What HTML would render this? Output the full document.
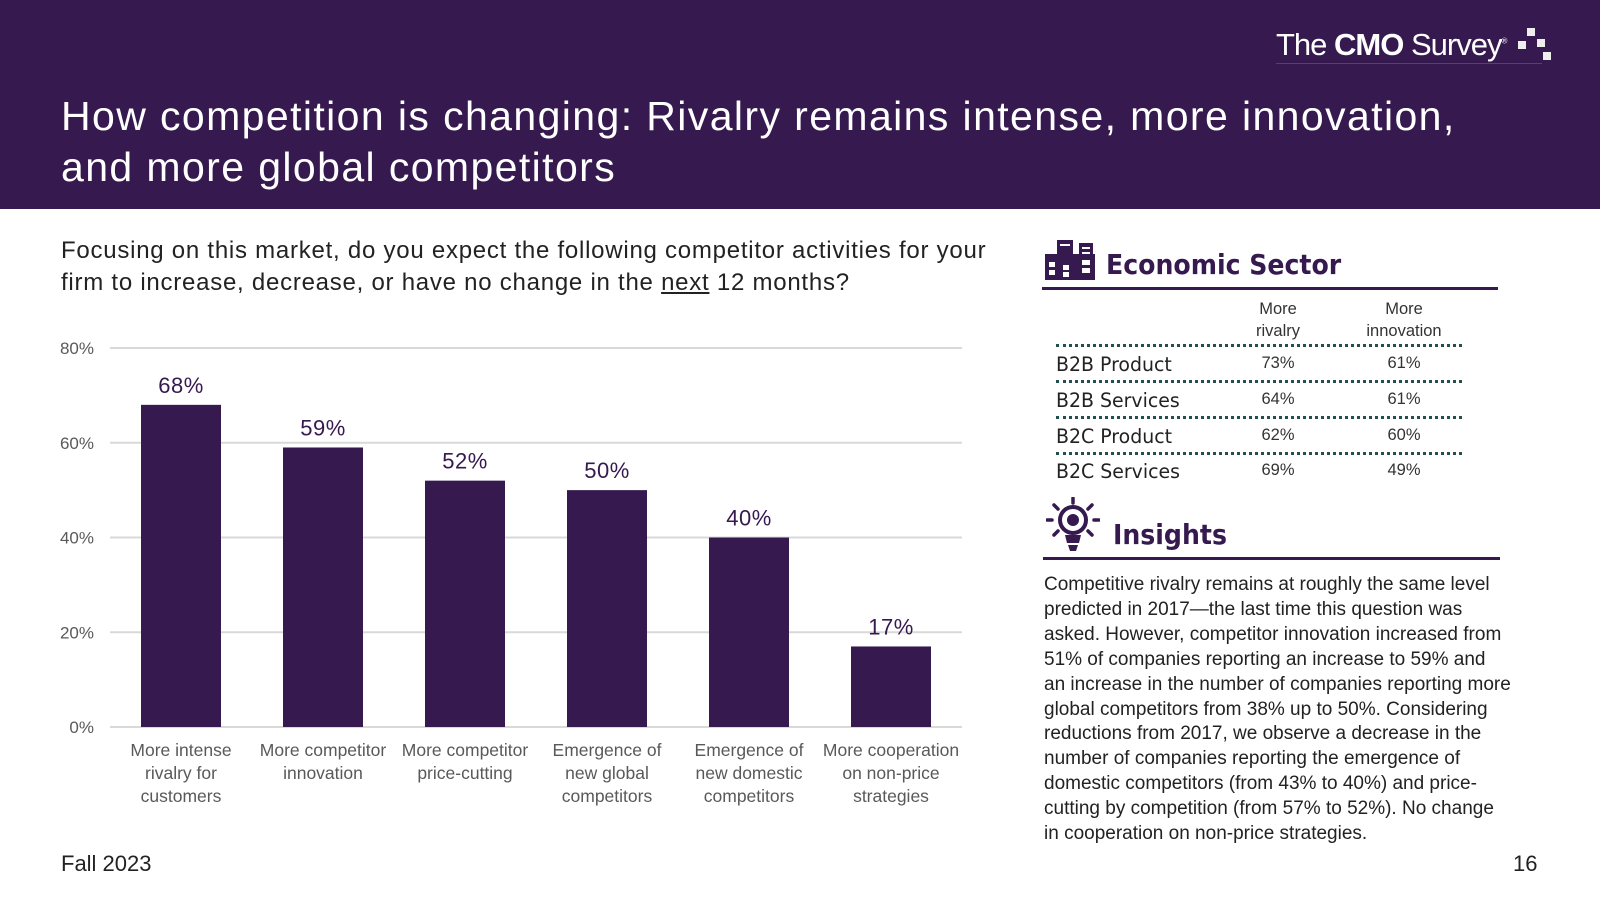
<!DOCTYPE html>
<html><head><meta charset="utf-8"><style>
body{margin:0;width:1600px;height:900px;background:#fff;position:relative;overflow:hidden;font-family:"Liberation Sans",sans-serif;}
.abs{position:absolute;white-space:nowrap;}
#hdr{position:absolute;left:0;top:0;width:1600px;height:209px;background:#36194f;}
.ttl{color:#fff;font-size:41px;left:61px;letter-spacing:1.4px;}
.q{font-size:24px;color:#222;left:61px;letter-spacing:0.75px;}
.sec{color:#36194f;font-family:"DejaVu Sans Condensed","DejaVu Sans",sans-serif;font-weight:bold;font-size:28px;}
.rowl{font-size:19.5px;color:#222;left:1056px;font-family:"DejaVu Sans",sans-serif;transform:scaleX(.97);transform-origin:left;}
.val{font-size:16.5px;color:#333;width:120px;text-align:center;}
.dot{position:absolute;left:1056px;width:406px;border-top:3px dotted #234f4f;}
#ins{left:1044px;top:573px;font-size:19px;line-height:24.9px;color:#222;letter-spacing:0px;}
</style></head><body>
<div id="hdr"></div>
<div class="abs" style="left:1276px;top:27px;color:#fff;font-size:31px;letter-spacing:-1px;font-weight:300;">The <b style="font-weight:900">CMO</b> Survey<sup style="font-size:8px">®</sup></div>
<div class="abs" style="left:1276px;top:63px;width:266px;height:1px;background:#6a3a5a"></div>
<svg class="abs" style="left:1518px;top:27px" width="40" height="36"><rect x="9" y="1" width="8" height="8" fill="#eee"/><rect x="0" y="14" width="8" height="8" fill="#eee"/><rect x="19" y="12" width="8" height="8" fill="#eee"/><rect x="25" y="25" width="8" height="8" fill="#eee"/></svg>
<div class="abs ttl" style="top:93px">How competition is changing: Rivalry remains intense, more innovation,</div>
<div class="abs ttl" style="top:144px">and more global competitors</div>
<div class="abs q" style="top:237px">Focusing on this market, do you expect the following competitor activities for your</div>
<div class="abs q" style="top:269px">firm to increase, decrease, or have no change in the <u>next</u> 12 months?</div>
<svg id="chart" class="abs" style="left:0;top:0" width="980" height="830"></svg>
<div class="abs" style="left:61px;top:851px;font-size:22px;color:#222">Fall 2023</div>
<div class="abs" style="left:1513px;top:851px;font-size:22px;color:#222">16</div>
<svg class="abs" style="left:1045px;top:240px" width="50" height="40" viewBox="0 0 50 40"><rect x="0" y="14" width="50" height="26" fill="#36194f"/><rect x="12" y="0" width="16" height="20" fill="#36194f"/><rect x="34" y="3" width="14" height="20" fill="#36194f"/><g fill="#fff"><rect x="15" y="4" width="10" height="2"/><rect x="37" y="7" width="8" height="2"/><rect x="37" y="12" width="8" height="2"/><rect x="4" y="22" width="6" height="5"/><rect x="4" y="30" width="6" height="5"/><rect x="18" y="25" width="6" height="5"/><rect x="18" y="32" width="6" height="5"/><rect x="37" y="20" width="8" height="5"/><rect x="37" y="28" width="8" height="5"/></g></svg>
<div class="abs sec" style="left:1106px;top:248px">Economic Sector</div>
<div class="abs" style="left:1042px;top:287px;width:456px;height:3px;background:#36194f"></div>
<div class="abs val" style="left:1218px;top:298px;line-height:22px">More<br>rivalry</div>
<div class="abs val" style="left:1344px;top:298px;line-height:22px">More<br>innovation</div>
<div class="dot" style="top:344px"></div>
<div class="dot" style="top:380px"></div>
<div class="dot" style="top:416px"></div>
<div class="dot" style="top:452px"></div>
<div class="abs rowl" style="top:353px">B2B Product</div>
<div class="abs val" style="left:1218px;top:354px">73%</div>
<div class="abs val" style="left:1344px;top:354px">61%</div>
<div class="abs rowl" style="top:389px">B2B Services</div>
<div class="abs val" style="left:1218px;top:390px">64%</div>
<div class="abs val" style="left:1344px;top:390px">61%</div>
<div class="abs rowl" style="top:425px">B2C Product</div>
<div class="abs val" style="left:1218px;top:426px">62%</div>
<div class="abs val" style="left:1344px;top:426px">60%</div>
<div class="abs rowl" style="top:460px">B2C Services</div>
<div class="abs val" style="left:1218px;top:461px">69%</div>
<div class="abs val" style="left:1344px;top:461px">49%</div>
<svg class="abs" style="left:1046px;top:497px" width="54" height="56" viewBox="0 0 54 56"><g stroke="#36194f" stroke-width="3.5" stroke-linecap="round"><line x1="27" y1="1" x2="27" y2="6"/><line x1="8" y1="8" x2="12" y2="12"/><line x1="46" y1="8" x2="42" y2="12"/><line x1="1" y1="23" x2="6" y2="23"/><line x1="48" y1="23" x2="53" y2="23"/><line x1="8" y1="38" x2="12" y2="34"/><line x1="46" y1="38" x2="42" y2="34"/></g><circle cx="27" cy="23" r="13" fill="none" stroke="#36194f" stroke-width="4"/><circle cx="27" cy="23" r="6" fill="#36194f"/><path d="M19 38h16l-2 8h-12z" fill="#36194f"/><path d="M22 48h10l-2 6h-6z" fill="#36194f"/></svg>
<div class="abs sec" style="left:1113px;top:518px">Insights</div>
<div class="abs" style="left:1043px;top:557px;width:457px;height:3px;background:#36194f"></div>
<div class="abs" id="ins">Competitive rivalry remains at roughly the same level<br>predicted in 2017—the last time this question was<br>asked. However, competitor innovation increased from<br>51% of companies reporting an increase to 59% and<br>an increase in the number of companies reporting more<br>global competitors from 38% up to 50%. Considering<br>reductions from 2017, we observe a decrease in the<br>number of companies reporting the emergence of<br>domestic competitors (from 43% to 40%) and price-<br>cutting by competition (from 57% to 52%). No change<br>in cooperation on non-price strategies.</div>
<script>
const categories=[["More intense","rivalry for","customers"],["More competitor","innovation"],["More competitor","price-cutting"],["Emergence of","new global","competitors"],["Emergence of","new domestic","competitors"],["More cooperation","on non-price","strategies"]];
const values=[68,59,52,50,40,17];
const ticks=[0,20,40,60,80];
const NS="http://www.w3.org/2000/svg";
const svg=document.getElementById('chart');
const x0=110,x1=962,yb=727,yt=348,maxV=80;
const y=v=>yb-(yb-yt)*v/maxV;
const step=(x1-x0)/categories.length;
const cx=i=>x0+step*(i+0.5);
function mk(t,a){const e=document.createElementNS(NS,t);for(const k in a)e.setAttribute(k,a[k]);svg.appendChild(e);return e;}
ticks.forEach(t=>{
 const l=mk('line',{x1:x0,x2:x1,y1:y(t),y2:y(t),stroke:'#d9d9d9','stroke-width':2});
 
 
 const tx=mk('text',{x:94,y:y(t)+6,'text-anchor':'end','font-size':17,fill:'#595959','font-family':'Liberation Sans'});
 tx.textContent=t+'%';
 
 
});
values.forEach((v,i)=>{
 const r=mk('rect',{x:cx(i)-40,y:y(v),width:80,height:yb-y(v),fill:'#36194f'});
 
 
 const t=mk('text',{x:cx(i),y:y(v)-12,'text-anchor':'middle','font-size':22,fill:'#36194f','font-family':'Liberation Sans','letter-spacing':0.5});
 t.textContent=v+'%';
 
 
 categories[i].forEach((s,j)=>{
  const c=mk('text',{x:cx(i),y:756+j*23,'text-anchor':'middle','font-size':17.5,fill:'#595959','font-family':'Liberation Sans'});
  c.textContent=s;
  
  
 });
});
</script>
</body></html>
